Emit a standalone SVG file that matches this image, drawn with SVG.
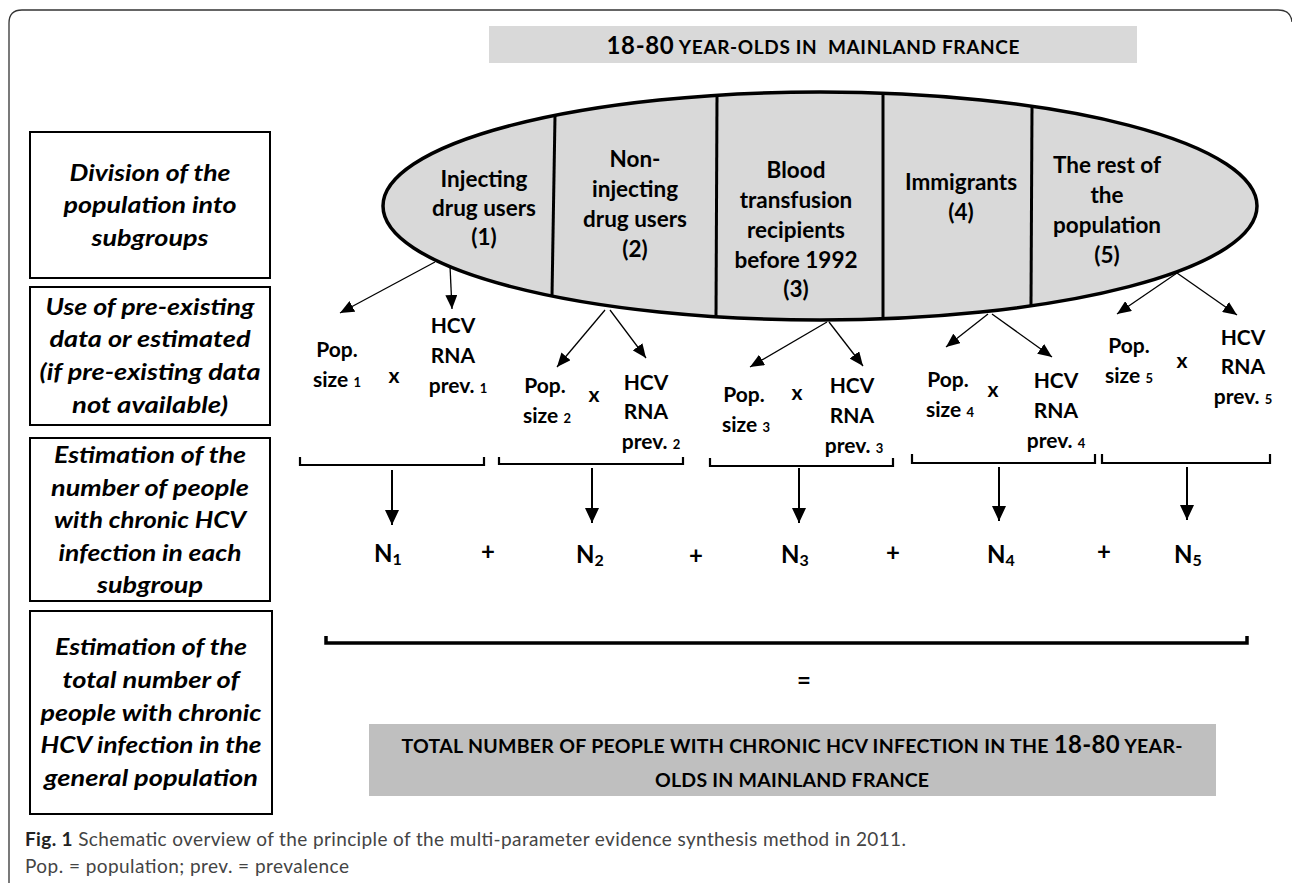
<svg xmlns="http://www.w3.org/2000/svg" width="1292" height="883" viewBox="0 0 1292 883">
<style>
text{font-family:Lato,"Open Sans","Liberation Sans",sans-serif;fill:#000}
.b{font-weight:bold}
.lbl{font-weight:bold;font-size:22.5px;text-anchor:middle}
.row{font-weight:bold;font-style:italic;font-size:23px;text-anchor:middle}
.sm{font-weight:bold;font-size:21px;text-anchor:middle}
.sub{font-size:13px}
.n{font-weight:bold;font-size:24px;text-anchor:middle}
.box{fill:#fff;stroke:#000;stroke-width:2}
.thin{stroke:#000;stroke-width:1.3;fill:none}
.vert{stroke:#000;stroke-width:2;fill:none}
.brk{stroke:#000;stroke-width:2.2;fill:none}
.div{stroke:#000;stroke-width:3;fill:none}
.cap{font-size:19px;fill:#444}
</style>
<defs>
<marker id="ah" viewBox="0 0 14 12" refX="14" refY="6" markerWidth="14" markerHeight="12" markerUnits="userSpaceOnUse" orient="auto"><path d="M0,0 L14,6 L0,12 Z" fill="#000"/></marker>
<marker id="ahv" viewBox="0 0 15 14" refX="15" refY="7" markerWidth="15" markerHeight="14" markerUnits="userSpaceOnUse" orient="auto"><path d="M0,0 L15,7 L0,14 Z" fill="#000"/></marker>
</defs>
<rect width="1292" height="883" fill="#fff"/>
<path d="M9,883 V23 Q9,10 22,10 H1278 Q1291,10 1292,22" fill="none" stroke="#333" stroke-width="1.3"/>

<g id="header">
<rect x="489" y="26" width="648" height="37" fill="#d9d9d9"/>
<text x="813" y="54" text-anchor="middle" class="b" textLength="413" style="white-space:pre"><tspan font-size="24">18-80</tspan><tspan font-size="19"> YEAR-OLDS IN  MAINLAND FRANCE</tspan></text>
</g>

<g id="population">
<ellipse cx="820" cy="206" rx="437" ry="114" fill="#d9d9d9" stroke="#000" stroke-width="3.5"/>
<line class="div" x1="555" y1="116" x2="552" y2="296"/>
<line class="div" x1="717" y1="96" x2="716" y2="316"/>
<line class="div" x1="883" y1="94" x2="883" y2="318"/>
<line class="div" x1="1032" y1="107" x2="1031" y2="305"/>
</g>

<g id="sub1"><text class="lbl"><tspan x="484" y="187">Injecting</tspan><tspan x="484" y="216">drug users</tspan><tspan x="484" y="245">(1)</tspan></text></g>
<g id="sub2"><text class="lbl"><tspan x="635" y="167">Non-</tspan><tspan x="635" y="197">injecting</tspan><tspan x="635" y="227">drug users</tspan><tspan x="635" y="257">(2)</tspan></text></g>
<g id="sub3"><text class="lbl"><tspan x="796" y="178">Blood</tspan><tspan x="796" y="208">transfusion</tspan><tspan x="796" y="238">recipients</tspan><tspan x="796" y="268">before 1992</tspan><tspan x="796" y="297">(3)</tspan></text></g>
<g id="sub4"><text class="lbl"><tspan x="961" y="190">Immigrants</tspan><tspan x="961" y="220">(4)</tspan></text></g>
<g id="sub5"><text class="lbl"><tspan x="1107" y="173">The rest of</tspan><tspan x="1107" y="203">the</tspan><tspan x="1107" y="233">population</tspan><tspan x="1107" y="263">(5)</tspan></text></g>

<g id="row1"><rect class="box" x="30" y="132" width="240" height="146"/>
<text class="row" x="150" y="181" textLength="161" lengthAdjust="spacingAndGlyphs">Division of the</text>
<text class="row" x="150" y="213" textLength="173" lengthAdjust="spacingAndGlyphs">population into</text>
<text class="row" x="150" y="246" textLength="117" lengthAdjust="spacingAndGlyphs">subgroups</text></g>
<g id="row2"><rect class="box" x="30" y="287" width="240" height="138"/>
<text class="row" x="150" y="315" textLength="209" lengthAdjust="spacingAndGlyphs">Use of pre-existing</text>
<text class="row" x="150" y="347" textLength="201" lengthAdjust="spacingAndGlyphs">data or estimated</text>
<text class="row" x="150" y="380" textLength="221" lengthAdjust="spacingAndGlyphs">(if pre-existing data</text>
<text class="row" x="150" y="413" textLength="156" lengthAdjust="spacingAndGlyphs">not available)</text></g>
<g id="row3"><rect class="box" x="30" y="438" width="240" height="163"/>
<text class="row" x="150" y="463" textLength="192" lengthAdjust="spacingAndGlyphs">Estimation of the</text>
<text class="row" x="150" y="496" textLength="198" lengthAdjust="spacingAndGlyphs">number of people</text>
<text class="row" x="150" y="528" textLength="192" lengthAdjust="spacingAndGlyphs">with chronic HCV</text>
<text class="row" x="150" y="561" textLength="183" lengthAdjust="spacingAndGlyphs">infection in each</text>
<text class="row" x="150" y="593" textLength="106" lengthAdjust="spacingAndGlyphs">subgroup</text></g>
<g id="row4"><rect class="box" x="30" y="611" width="242" height="203"/>
<text class="row" x="151" y="655" textLength="192" lengthAdjust="spacingAndGlyphs">Estimation of the</text>
<text class="row" x="151" y="688" textLength="177" lengthAdjust="spacingAndGlyphs">total number of</text>
<text class="row" x="151" y="721" textLength="221" lengthAdjust="spacingAndGlyphs">people with chronic</text>
<text class="row" x="151" y="753" textLength="221" lengthAdjust="spacingAndGlyphs">HCV infection in the</text>
<text class="row" x="151" y="786" textLength="214" lengthAdjust="spacingAndGlyphs">general population</text></g>

<g id="terms1">
<text class="sm"><tspan x="337" y="357">Pop.</tspan><tspan x="337" y="387">size <tspan class="sub">1</tspan></tspan></text>
<text class="sm" x="394" y="383">x</text>
<text class="sm"><tspan x="453" y="333">HCV</tspan><tspan x="453" y="363">RNA</tspan><tspan x="458" y="393">prev. <tspan class="sub">1</tspan></tspan></text>
</g>
<g id="terms2">
<text class="sm"><tspan x="545" y="393">Pop.</tspan><tspan x="547" y="423">size <tspan class="sub">2</tspan></tspan></text>
<text class="sm" x="594" y="402">x</text>
<text class="sm"><tspan x="646" y="390">HCV</tspan><tspan x="646" y="419">RNA</tspan><tspan x="651" y="449">prev. <tspan class="sub">2</tspan></tspan></text>
</g>
<g id="terms3">
<text class="sm"><tspan x="744" y="402">Pop.</tspan><tspan x="746" y="432">size <tspan class="sub">3</tspan></tspan></text>
<text class="sm" x="797" y="400">x</text>
<text class="sm"><tspan x="852" y="393">HCV</tspan><tspan x="852" y="423">RNA</tspan><tspan x="854" y="453">prev. <tspan class="sub">3</tspan></tspan></text>
</g>
<g id="terms4">
<text class="sm"><tspan x="948" y="387">Pop.</tspan><tspan x="950" y="417">size <tspan class="sub">4</tspan></tspan></text>
<text class="sm" x="993" y="397">x</text>
<text class="sm"><tspan x="1056" y="388">HCV</tspan><tspan x="1056" y="418">RNA</tspan><tspan x="1056" y="448">prev. <tspan class="sub">4</tspan></tspan></text>
</g>
<g id="terms5">
<text class="sm"><tspan x="1129" y="353">Pop.</tspan><tspan x="1129" y="383">size <tspan class="sub">5</tspan></tspan></text>
<text class="sm" x="1182" y="368">x</text>
<text class="sm"><tspan x="1243" y="345">HCV</tspan><tspan x="1243" y="374">RNA</tspan><tspan x="1243" y="404">prev. <tspan class="sub">5</tspan></tspan></text>
</g>

<g id="sums">
<text class="n" x="388" y="562">N<tspan font-size="16" dy="3">1</tspan></text>
<text class="n" x="590" y="563">N<tspan font-size="16" dy="3">2</tspan></text>
<text class="n" x="795" y="563">N<tspan font-size="16" dy="3">3</tspan></text>
<text class="n" x="1001" y="563">N<tspan font-size="16" dy="3">4</tspan></text>
<text class="n" x="1188" y="563">N<tspan font-size="16" dy="3">5</tspan></text>
<text class="n" x="488" y="560">+</text>
<text class="n" x="696" y="564">+</text>
<text class="n" x="893" y="561">+</text>
<text class="n" x="1104" y="560">+</text>
<text class="n" x="804" y="689">=</text>
</g>

<g id="total">
<rect x="369" y="724" width="847" height="72" fill="#bfbfbf"/>
<text x="792" y="753" text-anchor="middle" class="b" textLength="781"><tspan font-size="19.5">TOTAL NUMBER OF PEOPLE WITH CHRONIC HCV INFECTION IN THE </tspan><tspan font-size="24">18-80</tspan><tspan font-size="19.5"> YEAR-</tspan></text>
<text x="792" y="787" text-anchor="middle" class="b" font-size="19.5" textLength="274">OLDS IN MAINLAND FRANCE</text>
</g>

<g id="connectors">
<line class="thin" x1="435" y1="262" x2="340" y2="313" marker-end="url(#ah)"/>
<line class="thin" x1="450" y1="266" x2="452" y2="309" marker-end="url(#ah)"/>
<line class="thin" x1="605" y1="310" x2="557" y2="367" marker-end="url(#ah)"/>
<line class="thin" x1="610" y1="310" x2="646" y2="358" marker-end="url(#ah)"/>
<line class="thin" x1="827" y1="322" x2="750" y2="367" marker-end="url(#ah)"/>
<line class="thin" x1="829" y1="322" x2="863" y2="366" marker-end="url(#ah)"/>
<line class="thin" x1="988" y1="314" x2="946" y2="347" marker-end="url(#ah)"/>
<line class="thin" x1="992" y1="314" x2="1052" y2="357" marker-end="url(#ah)"/>
<line class="thin" x1="1177" y1="273" x2="1117" y2="314" marker-end="url(#ah)"/>
<line class="thin" x1="1177" y1="273" x2="1237" y2="315" marker-end="url(#ah)"/>
<path class="brk" d="M300,457 V465 H484 V457"/>
<path class="brk" d="M499,457 V464 H683 V457"/>
<path class="brk" d="M710,458 V466 H893 V458"/>
<path class="brk" d="M912,454 V463 H1095 V454"/>
<path class="brk" d="M1102,454 V463 H1270 V454"/>
<line class="vert" x1="392" y1="470" x2="392" y2="525" marker-end="url(#ahv)"/>
<line class="vert" x1="592" y1="468" x2="592" y2="523" marker-end="url(#ahv)"/>
<line class="vert" x1="799" y1="468" x2="799" y2="523" marker-end="url(#ahv)"/>
<line class="vert" x1="999" y1="467" x2="999" y2="521" marker-end="url(#ahv)"/>
<line class="vert" x1="1187" y1="467" x2="1187" y2="520" marker-end="url(#ahv)"/>
<path d="M326,636 V643 H1247 V636" fill="none" stroke="#000" stroke-width="3.5"/>
</g>

<g id="caption">
<text x="25" y="846" class="cap" textLength="881"><tspan font-weight="bold" fill="#222">Fig. 1</tspan> Schematic overview of the principle of the multi-parameter evidence synthesis method in 2011.</text>
<text x="25" y="873" class="cap" textLength="324">Pop. = population; prev. = prevalence</text>
</g>
</svg>
